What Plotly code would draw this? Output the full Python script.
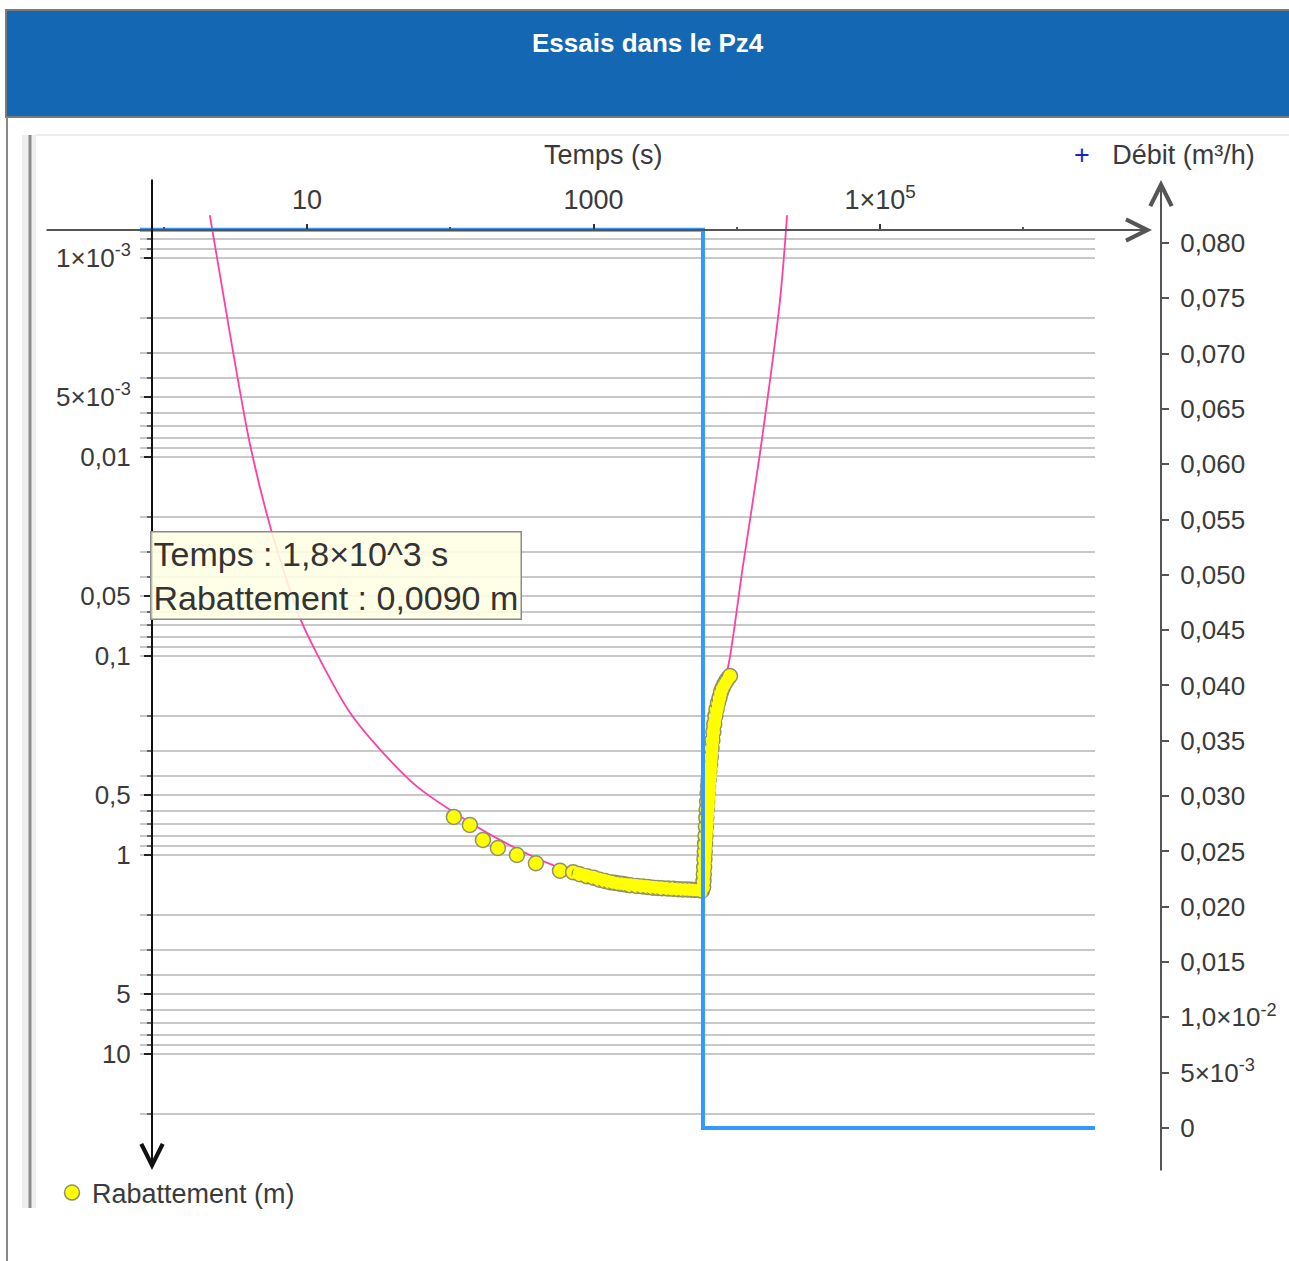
import plotly.graph_objects as go

W, H = 1289, 1261

# ---------------- data ----------------
# pumping phase: time (s) and drawdown (m)
pump_t = [106, 137, 169, 215, 292, 396, 583, 720, 800, 900, 1000, 1100, 1200, 1300,
          1400, 1500, 1600, 1700, 1800, 2000, 2200, 2400, 2600, 2800, 3000, 3300,
          3600, 3900, 4200, 4500, 4800, 5100, 5400, 5700]
pump_s = [0.644, 0.707, 0.841, 0.922, 1.00, 1.10, 1.20, 1.22, 1.25, 1.28, 1.30, 1.33,
          1.35, 1.37, 1.38, 1.39, 1.40, 1.41, 1.42, 1.43, 1.44, 1.45, 1.46, 1.465,
          1.47, 1.475, 1.48, 1.485, 1.49, 1.49, 1.495, 1.50, 1.50, 1.51]
# recovery phase
reco_t = [5820, 5850, 5880, 5910, 5940, 5970, 6000, 6040, 6080, 6120, 6160, 6200,
          6250, 6300, 6350, 6420, 6500, 6580, 6660, 6750, 6850, 6950, 7080, 7220,
          7380, 7560, 7750, 7950, 8200, 8450, 8700, 8950]
reco_s = [1.45, 1.35, 1.25, 1.15, 1.05, 0.96, 0.88, 0.80, 0.72, 0.65, 0.59, 0.54,
          0.49, 0.45, 0.42, 0.38, 0.35, 0.32, 0.29, 0.265, 0.24, 0.22, 0.20, 0.185,
          0.172, 0.162, 0.152, 0.145, 0.138, 0.133, 0.129, 0.126]
# fitted model curve
model_t = [2.1, 2.9, 4.0, 5.7, 8.9, 11.7, 20, 34, 59, 100, 222, 583, 1530, 5800,
           5900, 6000, 6200, 6500, 7000, 7800, 8670, 11000, 14500, 20000, 22400]
model_s = [6.1e-4, 2.4e-3, 8.6e-3, 0.0240, 0.064, 0.097, 0.193, 0.307, 0.455, 0.594,
           0.84, 1.16, 1.41, 1.52, 1.25, 0.95, 0.55, 0.36, 0.21, 0.145, 0.114,
           0.0357, 0.00955, 1.63e-3, 6.1e-4]
# pumping rate (m3/h)
debit_t = [0.68, 5800, 5800, 3.2e6]
debit_q = [0.0812, 0.0812, 0.0, 0.0]

# axis ticks
x_tickvals = [10, 1000, 1e5]
x_ticktext = ["10", "1000", "1×10<sup>5</sup>"]
x_minor = [1, 100, 1e4, 1e6]
y_tickvals = [1e-3, 5e-3, 0.01, 0.05, 0.1, 0.5, 1, 5, 10]
y_ticktext = ["1×10<sup>-3</sup>", "5×10<sup>-3</sup>", "0,01", "0,05", "0,1", "0,5",
              "1", "5", "10"]
y_decades = [1e-3, 0.01, 0.1, 1, 10]
q_tickvals = [0, 0.005, 0.010, 0.015, 0.020, 0.025, 0.030, 0.035, 0.040, 0.045,
              0.050, 0.055, 0.060, 0.065, 0.070, 0.075, 0.080]
q_ticktext = ["0", "5×10<sup>-3</sup>", "1,0×10<sup>-2</sup>", "0,015", "0,020",
              "0,025", "0,030", "0,035", "0,040", "0,045", "0,050", "0,055",
              "0,060", "0,065", "0,070", "0,075", "0,080"]

FONT = "Liberation Sans, Arial, sans-serif"
TXT = "#3a3a3a"


def px(x):
    return x / W


def py(y):
    return 1 - y / H


# minor grid values (1..9 x 10^k) within visible band
y_minor = [m * 10 ** k for k in range(-4, 2) for m in range(1, 10)]
y_minor = [v for v in y_minor if 7.5e-4 <= v <= 21]

# dense part of the record (drawn as a continuous band)
dense_t = pump_t[7:] + reco_t
dense_s = pump_s[7:] + reco_s

fig = go.Figure()

fig.add_trace(go.Scatter(x=debit_t, y=debit_q, xaxis="x", yaxis="y2", mode="lines",
                         line=dict(color="#3399ff", width=4), showlegend=False,
                         hoverinfo="skip"))
fig.add_trace(go.Scatter(x=model_t, y=model_s, mode="lines",
                         line=dict(color="#ff3fa4", width=1.8, shape="spline",
                                   smoothing=0.8),
                         showlegend=False, hoverinfo="skip"))
fig.add_trace(go.Scatter(x=pump_t + reco_t, y=pump_s + reco_s, mode="markers",
                         name="Rabattement (m)",
                         marker=dict(color="#ffff00", size=15,
                                     line=dict(color="#8f8f70", width=1.5))))
fig.add_trace(go.Scatter(x=dense_t, y=dense_s, mode="lines",
                         line=dict(color="#ffff00", width=12), showlegend=False,
                         hoverinfo="skip"))

x_range = [-0.165, 6.499]
y_range = [1.583, -3.216]
q_range = [-0.0038, 0.08253]

fig.update_layout(
    width=W, height=H,
    margin=dict(l=0, r=0, t=0, b=0),
    paper_bgcolor="white", plot_bgcolor="rgba(0,0,0,0)",
    font=dict(family=FONT, size=27, color=TXT),
    xaxis=dict(type="log", range=x_range, domain=[px(140), px(1095)],
               anchor="free", position=py(230), side="top",
               tickmode="array", tickvals=x_tickvals, ticktext=x_ticktext,
               ticks="outside", ticklen=6, tickwidth=2, tickcolor="#333",
               ticklabelstandoff=4,
               minor=dict(tickmode="array", tickvals=x_minor, ticks="outside",
                          ticklen=3, tickwidth=1.5, tickcolor="#555", showgrid=False),
               showgrid=False, zeroline=False, showline=False, automargin=False,
               tickfont=dict(size=27, color=TXT)),
    yaxis=dict(type="log", range=y_range, domain=[py(1170), py(215)],
               anchor="free", position=px(152), side="left",
               tickmode="array", tickvals=y_tickvals, ticktext=y_ticktext,
               ticks="outside", ticklen=8, tickwidth=2, tickcolor="#222",
               ticklabelstandoff=8,
               minor=dict(tickmode="array", tickvals=y_minor, ticks="outside",
                          ticklen=5, tickwidth=1.5, tickcolor="#666",
                          showgrid=True, gridcolor="#c8c8c8", gridwidth=1.6),
               showgrid=False, zeroline=False, showline=False, automargin=False,
               tickfont=dict(size=26, color=TXT)),
    yaxis2=dict(range=q_range, domain=[py(1170), py(215)], overlaying="y",
                anchor="free", position=px(1161), side="right",
                tickmode="array", tickvals=q_tickvals, ticktext=q_ticktext,
                ticks="outside", ticklen=7, tickwidth=2, tickcolor="#555",
                ticklabelstandoff=6,
                showgrid=False, zeroline=False, showline=False, automargin=False,
                tickfont=dict(size=26, color=TXT)),
    legend=dict(x=px(52), y=py(1193), xanchor="left", yanchor="middle",
                bgcolor="rgba(0,0,0,0)", font=dict(size=27, color=TXT),
                itemsizing="trace", tracegroupgap=0),
    showlegend=True,
)

shapes = []
# page decoration: header band
shapes.append(dict(type="rect", xref="paper", yref="paper", x0=px(6), x1=px(1292),
                   y0=py(117), y1=py(10), fillcolor="#1467b3",
                   line=dict(color="#7a7a7a", width=2), layer="below"))
# left frame line
shapes.append(dict(type="line", xref="paper", yref="paper", x0=px(7), x1=px(7),
                   y0=py(1261), y1=py(117), line=dict(color="#888", width=2)))
# chart panel
shapes.append(dict(type="rect", xref="paper", yref="paper", x0=px(22), x1=px(36),
                   y0=py(1208), y1=py(135), fillcolor="#eeeeee",
                   line=dict(width=0), layer="below"))
shapes.append(dict(type="line", xref="paper", yref="paper", x0=px(30), x1=px(30),
                   y0=py(1208), y1=py(135), line=dict(color="#8c8c8c", width=3)))
shapes.append(dict(type="line", xref="paper", yref="paper", x0=px(36), x1=px(1289),
                   y0=py(135), y1=py(135), line=dict(color="#eeeeee", width=2)))
# darker decade grid lines
for v in y_decades:
    shapes.append(dict(type="line", xref="x domain", yref="y", x0=0.012, x1=0.998,
                       y0=v, y1=v, line=dict(color="#7d7d7d", width=1.6),
                       layer="below"))
fig.update_layout(shapes=shapes)

ann = []
# axis lines with arrow heads
ann.append(dict(xref="paper", yref="paper", x=px(1152), y=py(230), ax=45 - 1152, ay=0,
                text="", showarrow=True, arrowhead=5, arrowsize=2.1, arrowwidth=2,
                arrowcolor="#555", standoff=0, startstandoff=0))
ann.append(dict(xref="paper", yref="paper", x=px(152), y=py(1170), ax=0,
                ay=178 - 1170, text="", showarrow=True, arrowhead=5, arrowsize=2.1,
                arrowwidth=2, arrowcolor="#111", standoff=0, startstandoff=0))
ann.append(dict(xref="paper", yref="paper", x=px(1161), y=py(180), ax=0,
                ay=1172 - 180, text="", showarrow=True, arrowhead=5, arrowsize=2.1,
                arrowwidth=2, arrowcolor="#555", standoff=0, startstandoff=0))
# titles
ann.append(dict(xref="paper", yref="paper", x=px(648), y=py(43), text="<b>Essais dans le Pz4</b>",
                showarrow=False, font=dict(size=26, color="white", family=FONT),
                xanchor="center", yanchor="middle"))
ann.append(dict(xref="paper", yref="paper", x=px(603), y=py(155), text="Temps (s)",
                showarrow=False, font=dict(size=27, color=TXT),
                xanchor="center", yanchor="middle"))
ann.append(dict(xref="paper", yref="paper", x=px(1257), y=py(155),
                text="<span style='color:#1f1fd6'>+</span>   Débit (m³/h)",
                showarrow=False, font=dict(size=27, color=TXT),
                xanchor="right", yanchor="middle"))
# tooltip box
ann.append(dict(xref="paper", yref="paper", x=px(150), y=py(531),
                text="Temps : 1,8×10^3 s<br>Rabattement : 0,0090 m",
                showarrow=False, align="left", xanchor="left", yanchor="top",
                font=dict(size=34, color="#333"), bgcolor="rgba(255,255,228,0.88)",
                bordercolor="#8a8a8a", borderwidth=1.5, borderpad=2))
fig.update_layout(annotations=ann)

fig.write_html("out.html", config={"displayModeBar": False},
               post_script="document.body.style.margin='0';document.body.style.overflow='hidden';")
